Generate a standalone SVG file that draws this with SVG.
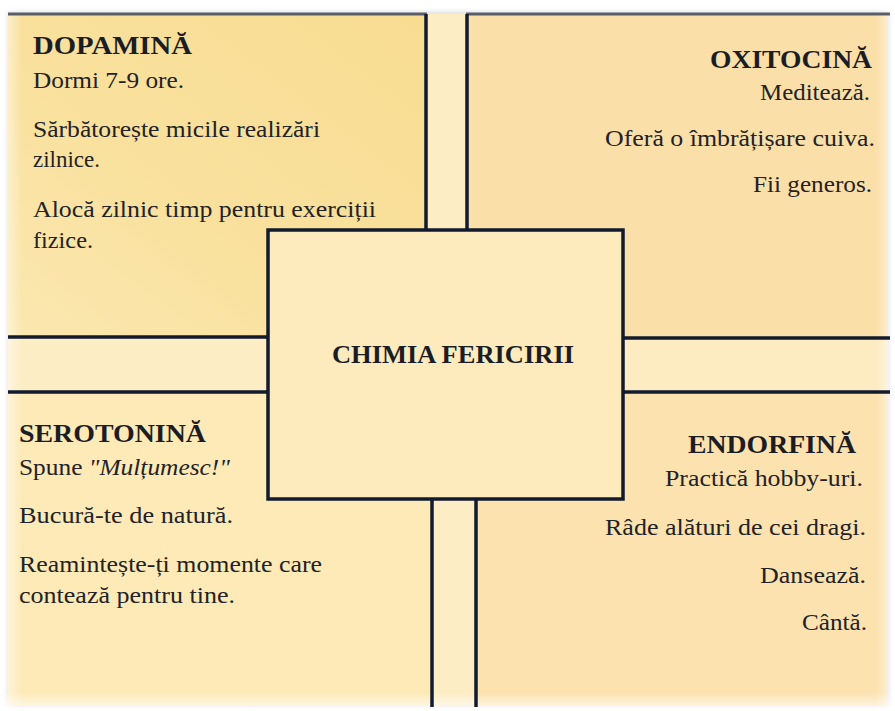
<svg xmlns="http://www.w3.org/2000/svg" width="895" height="711" viewBox="0 0 895 711">
<defs>
<style>
.t{font-family:"Liberation Serif","Times New Roman",serif;font-size:24px;fill:#222227}
.h{font-family:"Liberation Serif","Times New Roman",serif;font-size:25px;font-weight:bold;fill:#1c1d24}
.ln{stroke:#121a2e;stroke-width:3.5;fill:none}
.top{stroke:#5a5e68;stroke-width:3}
</style>
<linearGradient id="gDop" x1="1" y1="0" x2="0" y2="1">
<stop offset="0" stop-color="#f8dc92"/>
<stop offset="0.6" stop-color="#f9e19e"/>
<stop offset="1" stop-color="#fbe7b0"/>
</linearGradient>
<linearGradient id="fadeL" x1="0" y1="0" x2="1" y2="0">
<stop offset="0" stop-color="#ffffff" stop-opacity="1"/>
<stop offset="1" stop-color="#ffffff" stop-opacity="0"/>
</linearGradient>
<linearGradient id="fadeR" x1="1" y1="0" x2="0" y2="0">
<stop offset="0" stop-color="#ffffff" stop-opacity="1"/>
<stop offset="1" stop-color="#ffffff" stop-opacity="0"/>
</linearGradient>
<linearGradient id="fadeB" x1="0" y1="1" x2="0" y2="0">
<stop offset="0" stop-color="#ffffff" stop-opacity="1"/>
<stop offset="1" stop-color="#ffffff" stop-opacity="0"/>
</linearGradient>
<filter id="sh" x="-5%" y="-5%" width="110%" height="110%">
<feGaussianBlur stdDeviation="2.5"/>
</filter>
</defs>
<rect width="895" height="711" fill="#ffffff"/>
<rect x="6" y="12" width="884" height="695" fill="#b8b8bc" opacity="0.5" filter="url(#sh)"/>

<g id="gaps">
<rect x="426" y="14" width="41" height="216" fill="#fdedc4"/>
<rect x="8" y="337" width="260" height="55" fill="#fdedc4"/>
<rect x="623" y="338" width="265" height="54" fill="#fdecc2"/>
<rect x="432" y="499" width="44" height="206" fill="#fdedc4"/>
</g>

<g id="dopamina">
<rect x="8" y="14" width="418" height="323" fill="url(#gDop)"/>
<text class="h" x="33" y="54" textLength="159" lengthAdjust="spacingAndGlyphs">DOPAMINĂ</text>
<text class="t" x="33" y="88" textLength="151" lengthAdjust="spacingAndGlyphs">Dormi 7-9 ore.</text>
<text class="t" x="33" y="137" textLength="287" lengthAdjust="spacingAndGlyphs">Sărbătorește micile realizări</text>
<text class="t" x="33" y="167" textLength="67" lengthAdjust="spacingAndGlyphs">zilnice.</text>
<text class="t" x="33" y="217" textLength="343" lengthAdjust="spacingAndGlyphs">Alocă zilnic timp pentru exerciții</text>
<text class="t" x="33" y="248" textLength="60" lengthAdjust="spacingAndGlyphs">fizice.</text>
</g>

<g id="oxitocina">
<rect x="467" y="14" width="421" height="324" fill="#fbdfa8"/>
<text class="h" x="710" y="68" textLength="162" lengthAdjust="spacingAndGlyphs">OXITOCINĂ</text>
<text class="t" x="760" y="100" textLength="110" lengthAdjust="spacingAndGlyphs">Meditează.</text>
<text class="t" x="605" y="146" textLength="270" lengthAdjust="spacingAndGlyphs">Oferă o îmbrățișare cuiva.</text>
<text class="t" x="753" y="192" textLength="119" lengthAdjust="spacingAndGlyphs">Fii generos.</text>
</g>

<g id="serotonina">
<rect x="8" y="392" width="424" height="313" fill="#fdeab7"/>
<text class="h" x="19" y="442" textLength="187" lengthAdjust="spacingAndGlyphs">SEROTONINĂ</text>
<text class="t" x="19" y="475" textLength="211" lengthAdjust="spacingAndGlyphs">Spune <tspan font-style="italic">"Mulțumesc!"</tspan></text>
<text class="t" x="19" y="523" textLength="214" lengthAdjust="spacingAndGlyphs">Bucură-te de natură.</text>
<text class="t" x="19" y="572" textLength="303" lengthAdjust="spacingAndGlyphs">Reamintește-ți momente care</text>
<text class="t" x="19" y="603" textLength="216" lengthAdjust="spacingAndGlyphs">contează pentru tine.</text>
</g>

<g id="endorfina">
<rect x="476" y="392" width="412" height="313" fill="#fbe2ae"/>
<text class="h" x="688" y="453" textLength="168" lengthAdjust="spacingAndGlyphs">ENDORFINĂ</text>
<text class="t" x="665" y="486" textLength="198" lengthAdjust="spacingAndGlyphs">Practică hobby-uri.</text>
<text class="t" x="605" y="535" textLength="261" lengthAdjust="spacingAndGlyphs">Râde alături de cei dragi.</text>
<text class="t" x="760" y="583" textLength="106" lengthAdjust="spacingAndGlyphs">Dansează.</text>
<text class="t" x="802" y="630" textLength="65" lengthAdjust="spacingAndGlyphs">Cântă.</text>
</g>

<g id="fades">
<rect x="0" y="0" width="22" height="711" fill="url(#fadeL)" opacity="0.7"/>
<rect x="876" y="0" width="19" height="711" fill="url(#fadeR)" opacity="0.7"/>
<rect x="0" y="692" width="895" height="19" fill="url(#fadeB)" opacity="0.8"/>
</g>

<g id="connectors">
<line class="top" x1="8" y1="14" x2="427" y2="14"/>
<line class="top" x1="466" y1="14" x2="890" y2="14"/>
<line class="ln" x1="426" y1="14" x2="426" y2="230"/>
<line class="ln" x1="467" y1="14" x2="467" y2="230"/>
<line class="ln" x1="8" y1="337" x2="268" y2="337"/>
<line class="ln" x1="8" y1="392" x2="268" y2="392"/>
<line class="ln" x1="623" y1="338" x2="890" y2="338"/>
<line class="ln" x1="623" y1="392" x2="890" y2="392"/>
<line class="ln" x1="432" y1="499" x2="432" y2="707"/>
<line class="ln" x1="476" y1="499" x2="476" y2="707"/>
</g>

<g id="chimia">
<rect x="268" y="230" width="355" height="269" style="fill:#fdebbd;stroke:#121a2e;stroke-width:3.5"/>
<text class="h" x="332" y="363" textLength="242" lengthAdjust="spacingAndGlyphs">CHIMIA FERICIRII</text>
</g>
</svg>
